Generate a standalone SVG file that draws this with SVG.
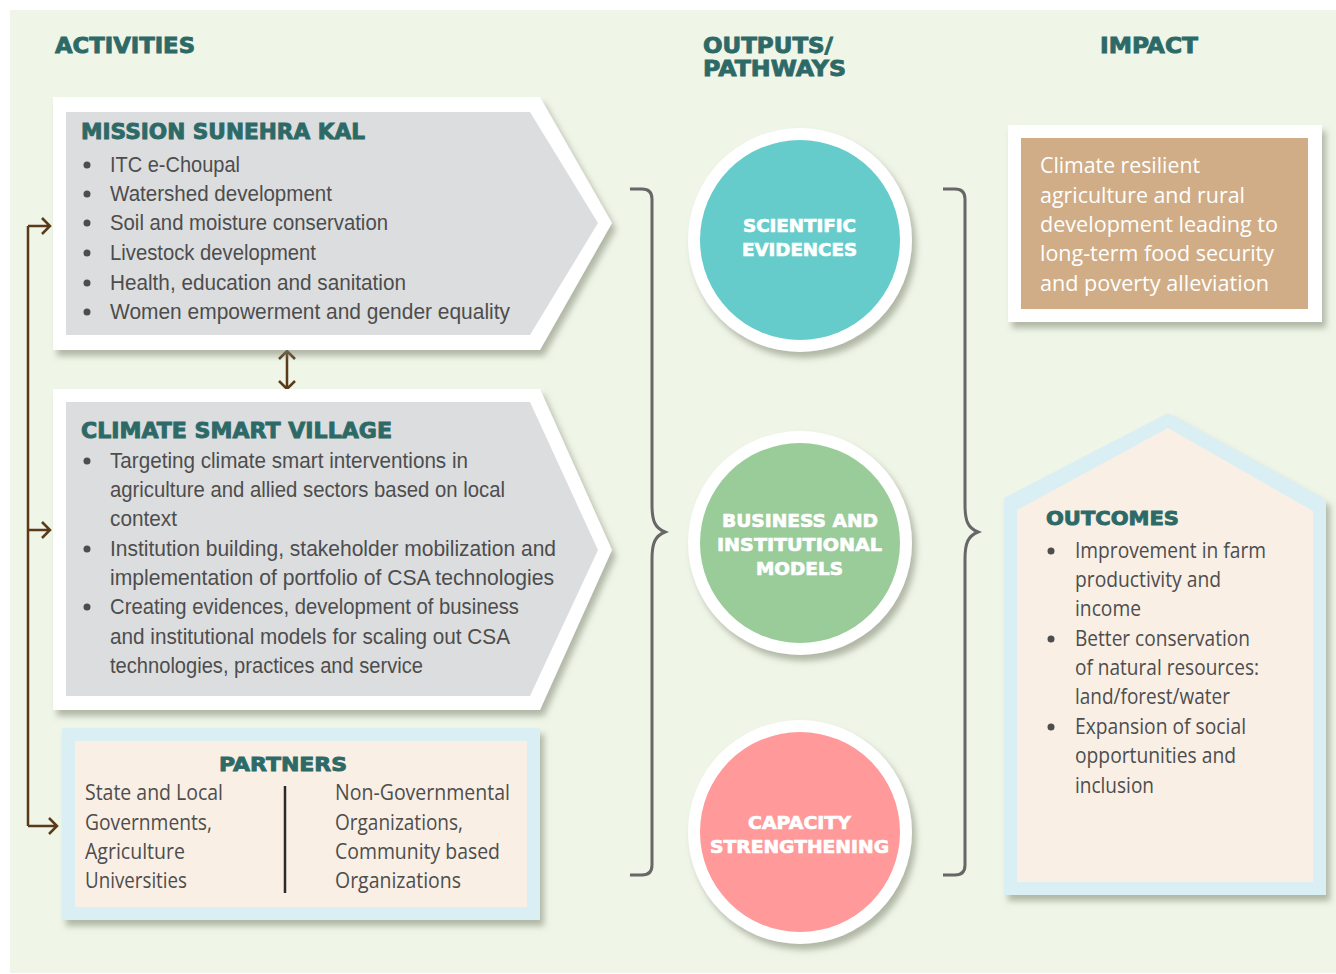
<svg xmlns="http://www.w3.org/2000/svg" width="1336" height="974" viewBox="0 0 1336 974">
<defs>
<filter id="sh" x="-10%" y="-10%" width="130%" height="130%">
<feDropShadow dx="4" dy="6" stdDeviation="3" flood-color="#7d8571" flood-opacity="0.55"/>
</filter>
<style>
.hd{font-family:"DejaVu Sans","Liberation Sans",sans-serif;font-weight:bold;fill:#2d6a67;stroke:#2d6a67;stroke-width:0.9;}
.ct{font-family:"DejaVu Sans","Liberation Sans",sans-serif;font-weight:bold;fill:#ffffff;stroke:#ffffff;stroke-width:0.7;font-size:18px;}
.bl{font-family:"Liberation Sans","Noto Sans",sans-serif;font-size:22.5px;fill:#4d4d4d;}
.br{font-family:"Open Sans","Noto Sans",sans-serif;font-size:21px;fill:#4d4d4d;}
.wt{font-family:"Open Sans","Noto Sans",sans-serif;font-size:22px;fill:#ffffff;}
.dot{fill:#4d4d4d;}
.brown{stroke:#5b3a1a;stroke-width:2.5;fill:none;}
.brace{stroke:#676767;stroke-width:3;fill:none;}
</style>
</defs>
<rect x="0" y="0" width="1336" height="974" fill="#ffffff"/>
<rect x="10" y="10" width="1326" height="963" fill="#eff5e7"/>

<g id="headers">
<text class="hd" x="55" y="53" font-size="22" textLength="140" lengthAdjust="spacingAndGlyphs">ACTIVITIES</text>
<text class="hd" x="703" y="53" font-size="22" textLength="130" lengthAdjust="spacingAndGlyphs">OUTPUTS/</text>
<text class="hd" x="703" y="76" font-size="22" textLength="143" lengthAdjust="spacingAndGlyphs">PATHWAYS</text>
<text class="hd" x="1100" y="53" font-size="22" textLength="98" lengthAdjust="spacingAndGlyphs">IMPACT</text>
</g>

<g id="connectors">
<path class="brown" d="M28 226 L28 826"/>
<path class="brown" d="M28 226 L50 226 M42 218 L50 226 L42 234"/>
<path class="brown" d="M28 530 L50 530 M42 522 L50 530 L42 538"/>
<path class="brown" d="M28 826 L57 826 M49 818 L57 826 L49 834"/>
<path class="brown" d="M287 351 L287 389 M279 359 L287 351 L295 359 M279 381 L287 389 L295 381"/>
<path class="brace" d="M630 189 L642 189 Q652 189 652 199 L652 505 C652 521 655 528 665 532 C655 536 652 543 652 559 L652 865 Q652 875 642 875 L630 875"/>
<path class="brace" d="M943 189 L955 189 Q965 189 965 199 L965 505 C965 521 968 528 978 532 C968 536 965 543 965 559 L965 865 Q965 875 955 875 L943 875"/>
</g>

<g id="mission">
<polygon points="53,97 540,97 612,223 540,350 53,350" fill="#ffffff" filter="url(#sh)"/>
<polygon points="66,112 530,112 598,223 530,335 66,335" fill="#dcdddf"/>
<text class="hd" x="81" y="139" font-size="21" textLength="284" lengthAdjust="spacingAndGlyphs">MISSION SUNEHRA KAL</text>
<circle class="dot" cx="87" cy="165" r="3.5"/>
<circle class="dot" cx="87" cy="194" r="3.5"/>
<circle class="dot" cx="87" cy="223" r="3.5"/>
<circle class="dot" cx="87" cy="253" r="3.5"/>
<circle class="dot" cx="87" cy="283" r="3.5"/>
<circle class="dot" cx="87" cy="312" r="3.5"/>
<text class="bl" x="110" y="172" textLength="130" lengthAdjust="spacingAndGlyphs">ITC e-Choupal</text>
<text class="bl" x="110" y="201" textLength="222" lengthAdjust="spacingAndGlyphs">Watershed development</text>
<text class="bl" x="110" y="230" textLength="278" lengthAdjust="spacingAndGlyphs">Soil and moisture conservation</text>
<text class="bl" x="110" y="260" textLength="206" lengthAdjust="spacingAndGlyphs">Livestock development</text>
<text class="bl" x="110" y="290" textLength="296" lengthAdjust="spacingAndGlyphs">Health, education and sanitation</text>
<text class="bl" x="110" y="319" textLength="400" lengthAdjust="spacingAndGlyphs">Women empowerment and gender equality</text>
</g>

<g id="csv">
<polygon points="53,389 540,389 612,550 540,710 53,710" fill="#ffffff" filter="url(#sh)"/>
<polygon points="66,402 530,402 598,550 530,696 66,696" fill="#dcdddf"/>
<text class="hd" x="81" y="438" font-size="21" textLength="311" lengthAdjust="spacingAndGlyphs">CLIMATE SMART VILLAGE</text>
<circle class="dot" cx="87" cy="461" r="3.5"/>
<circle class="dot" cx="87" cy="549" r="3.5"/>
<circle class="dot" cx="87" cy="607" r="3.5"/>
<text class="bl" x="110" y="468" textLength="358" lengthAdjust="spacingAndGlyphs">Targeting climate smart interventions in</text>
<text class="bl" x="110" y="497" textLength="395" lengthAdjust="spacingAndGlyphs">agriculture and allied sectors based on local</text>
<text class="bl" x="110" y="526" textLength="67" lengthAdjust="spacingAndGlyphs">context</text>
<text class="bl" x="110" y="556" textLength="446" lengthAdjust="spacingAndGlyphs">Institution building, stakeholder mobilization and</text>
<text class="bl" x="110" y="585" textLength="444" lengthAdjust="spacingAndGlyphs">implementation of portfolio of CSA technologies</text>
<text class="bl" x="110" y="614" textLength="409" lengthAdjust="spacingAndGlyphs">Creating evidences, development of business</text>
<text class="bl" x="110" y="644" textLength="400" lengthAdjust="spacingAndGlyphs">and institutional models for scaling out CSA</text>
<text class="bl" x="110" y="673" textLength="313" lengthAdjust="spacingAndGlyphs">technologies, practices and service</text>
</g>

<g id="partners">
<rect x="62" y="728" width="478" height="192" fill="#d9eff4" filter="url(#sh)"/>
<rect x="75" y="741" width="452" height="166" fill="#f9efe5"/>
<text class="hd" x="219" y="771" font-size="20" textLength="128" lengthAdjust="spacingAndGlyphs">PARTNERS</text>
<line x1="285" y1="786" x2="285" y2="893" stroke="#2a2a2a" stroke-width="2.5"/>
<text class="br" x="85" y="800" textLength="138" lengthAdjust="spacingAndGlyphs">State and Local</text>
<text class="br" x="85" y="830" textLength="127" lengthAdjust="spacingAndGlyphs">Governments,</text>
<text class="br" x="85" y="859" textLength="100" lengthAdjust="spacingAndGlyphs">Agriculture</text>
<text class="br" x="85" y="888" textLength="102" lengthAdjust="spacingAndGlyphs">Universities</text>
<text class="br" x="335" y="800" textLength="175" lengthAdjust="spacingAndGlyphs">Non-Governmental</text>
<text class="br" x="335" y="830" textLength="128" lengthAdjust="spacingAndGlyphs">Organizations,</text>
<text class="br" x="335" y="859" textLength="165" lengthAdjust="spacingAndGlyphs">Community based</text>
<text class="br" x="335" y="888" textLength="126" lengthAdjust="spacingAndGlyphs">Organizations</text>
</g>

<g id="scientific">
<circle cx="800" cy="240" r="112" fill="#ffffff" filter="url(#sh)"/>
<circle cx="800" cy="240" r="100" fill="#66cccb"/>
<text class="ct" x="743" y="232" textLength="113" lengthAdjust="spacingAndGlyphs">SCIENTIFIC</text>
<text class="ct" x="742" y="256" textLength="115" lengthAdjust="spacingAndGlyphs">EVIDENCES</text>
</g>

<g id="business">
<circle cx="800" cy="543" r="112" fill="#ffffff" filter="url(#sh)"/>
<circle cx="800" cy="543" r="100" fill="#99cc99"/>
<text class="ct" x="722" y="527" textLength="156" lengthAdjust="spacingAndGlyphs">BUSINESS AND</text>
<text class="ct" x="717" y="551" textLength="165" lengthAdjust="spacingAndGlyphs">INSTITUTIONAL</text>
<text class="ct" x="756" y="575" textLength="87" lengthAdjust="spacingAndGlyphs">MODELS</text>
</g>

<g id="capacity">
<circle cx="800" cy="832" r="112" fill="#ffffff" filter="url(#sh)"/>
<circle cx="800" cy="832" r="100" fill="#ff999a"/>
<text class="ct" x="748" y="829" textLength="103" lengthAdjust="spacingAndGlyphs">CAPACITY</text>
<text class="ct" x="710" y="853" textLength="179" lengthAdjust="spacingAndGlyphs">STRENGTHENING</text>
</g>

<g id="impact">
<rect x="1008" y="125" width="314" height="197" fill="#ffffff" filter="url(#sh)"/>
<rect x="1021" y="138" width="287" height="171" fill="#d0ad86"/>
<text class="wt" x="1040" y="173" textLength="160" lengthAdjust="spacingAndGlyphs">Climate resilient</text>
<text class="wt" x="1040" y="203" textLength="205" lengthAdjust="spacingAndGlyphs">agriculture and rural</text>
<text class="wt" x="1040" y="232" textLength="238" lengthAdjust="spacingAndGlyphs">development leading to</text>
<text class="wt" x="1040" y="261" textLength="234" lengthAdjust="spacingAndGlyphs">long-term food security</text>
<text class="wt" x="1040" y="291" textLength="229" lengthAdjust="spacingAndGlyphs">and poverty alleviation</text>
</g>

<g id="outcomes">
<polygon points="1004,498 1168,413 1326,500 1326,895 1004,895" fill="#d9eff4" filter="url(#sh)"/>
<polygon points="1017,510 1168,428 1313,511 1313,882 1017,882" fill="#f9efe5"/>
<text class="hd" x="1046" y="525" font-size="20" textLength="133" lengthAdjust="spacingAndGlyphs">OUTCOMES</text>
<circle class="dot" cx="1051" cy="551" r="3.5"/>
<circle class="dot" cx="1051" cy="639" r="3.5"/>
<circle class="dot" cx="1051" cy="727" r="3.5"/>
<text class="br" x="1075" y="558" textLength="191" lengthAdjust="spacingAndGlyphs">Improvement in farm</text>
<text class="br" x="1075" y="587" textLength="146" lengthAdjust="spacingAndGlyphs">productivity and</text>
<text class="br" x="1075" y="616" textLength="66" lengthAdjust="spacingAndGlyphs">income</text>
<text class="br" x="1075" y="646" textLength="175" lengthAdjust="spacingAndGlyphs">Better conservation</text>
<text class="br" x="1075" y="675" textLength="184" lengthAdjust="spacingAndGlyphs">of natural resources:</text>
<text class="br" x="1075" y="704" textLength="155" lengthAdjust="spacingAndGlyphs">land/forest/water</text>
<text class="br" x="1075" y="734" textLength="171" lengthAdjust="spacingAndGlyphs">Expansion of social</text>
<text class="br" x="1075" y="763" textLength="161" lengthAdjust="spacingAndGlyphs">opportunities and</text>
<text class="br" x="1075" y="793" textLength="79" lengthAdjust="spacingAndGlyphs">inclusion</text>
</g>
</svg>
